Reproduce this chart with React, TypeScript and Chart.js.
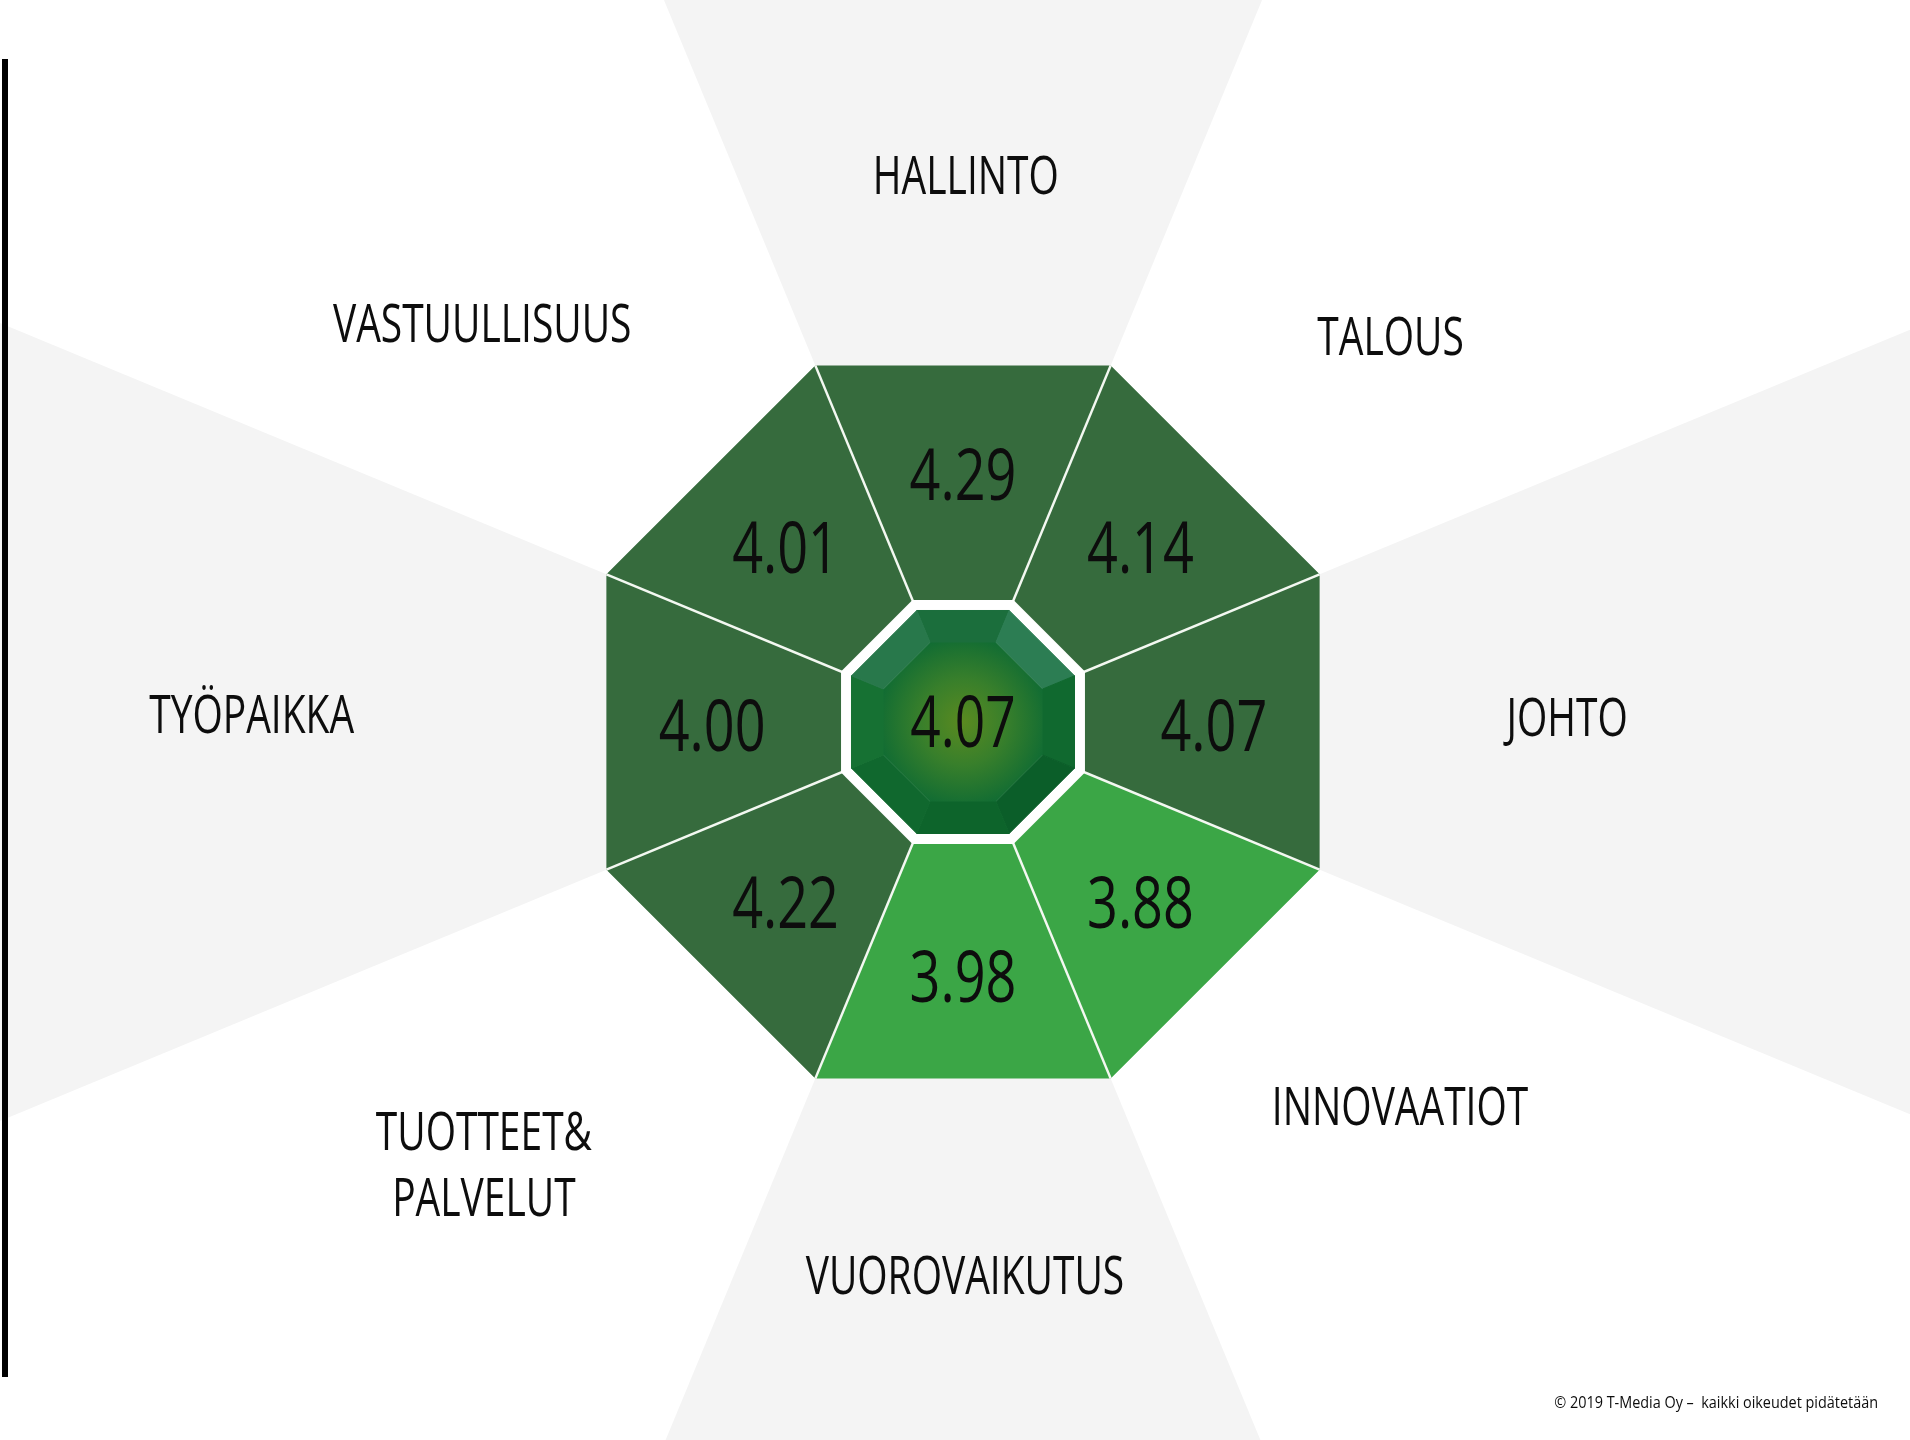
import { useEffect, useRef } from 'react';
import { Chart, registerables } from 'chart.js';

Chart.register(...registerables);

// ---------- data ----------
const categories: (string | string[])[] = [
  'HALLINTO',
  'TALOUS',
  'JOHTO',
  'INNOVAATIOT',
  'VUOROVAIKUTUS',
  ['TUOTTEET&', 'PALVELUT'],
  'TYÖPAIKKA',
  'VASTUULLISUUS',
];
const scores = [4.29, 4.14, 4.07, 3.88, 3.98, 4.22, 4.0, 4.01];
const overallScore = 4.07;
const scaleMin = 0;
const scaleMax = 5;
const colorThreshold = 4.0;
const copyrightText = '© 2019 T-Media Oy –  kaikki oikeudet pidätetään';

// ---------- style / layout ----------
const DARK_GREEN = '#366b3d';
const LIGHT_GREEN = '#3ba646';
const BACKDROP_GRAY = '#f4f4f4';
const DIVIDER = '#f3f8f1';
const TEXT_COLOR = '#0d0d0d';
const FONT = '"Open Sans", Lato, sans-serif';
// label centre: distance (x drawingArea) and small angular turn (deg) from the wedge axis
const LABEL_DIST = [1.418, 1.493, 1.565, 1.507, 1.434, 1.689, 1.843, 1.619];
const LABEL_TURN = [0.3, 2.9, -0.5, -3.7, -0.2, 2.3, 0.6, -5.3];
const SCORE_DIST = 0.65;
const SCORE_DROP = 3;
const RING = 0.342;
const BEZEL_OUT = 0.3127;
const BEZEL_IN = 0.2229;
const FACET_COLORS = ['#1b6e3c', '#2c7d53', '#10692f', '#0b5e29', '#0d642b', '#10682e', '#167133', '#28784b'];

const n = categories.length;

function drawCondensed(
  ctx: CanvasRenderingContext2D,
  lines: string[],
  x: number,
  y: number,
  size: number,
  sx: number,
  lineHeight: number,
  weight = 400,
  align: CanvasTextAlign = 'center'
) {
  ctx.save();
  ctx.font = `${weight} ${size}px ${FONT}`;
  ctx.fillStyle = TEXT_COLOR;
  ctx.textAlign = align;
  ctx.textBaseline = 'alphabetic';
  const cap = size * 0.714;
  const total = (lines.length - 1) * lineHeight;
  lines.forEach((ln, i) => {
    const by = y - total / 2 + i * lineHeight + cap / 2;
    ctx.save();
    ctx.translate(x, by);
    ctx.scale(sx, 1);
    ctx.fillText(ln, 0, 0);
    ctx.restore();
  });
  ctx.restore();
}

const decorPlugin = {
  id: 'octagonDecor',
  beforeDraw(chart: any) {
    const scale = chart.scales.r;
    const ctx: CanvasRenderingContext2D = chart.ctx;
    ctx.save();
    ctx.fillStyle = BACKDROP_GRAY;
    const far = 4000;
    for (let k = 0; k < n; k += 2) {
      const a = scale.getPointPosition(k, far);
      const b = scale.getPointPosition((k + 1) % n, far);
      ctx.beginPath();
      ctx.moveTo(scale.xCenter, scale.yCenter);
      ctx.lineTo(a.x, a.y);
      ctx.lineTo(b.x, b.y);
      ctx.closePath();
      ctx.fill();
    }
    ctx.restore();
  },
  afterDraw(chart: any) {
    const scale = chart.scales.r;
    const ctx: CanvasRenderingContext2D = chart.ctx;
    const da = scale.drawingArea;
    const cx = scale.xCenter;
    const cy = scale.yCenter;
    const octPath = (dist: number) => {
      ctx.beginPath();
      for (let i = 0; i < n; i++) {
        const p = scale.getPointPosition(i, dist);
        if (i === 0) ctx.moveTo(p.x, p.y);
        else ctx.lineTo(p.x, p.y);
      }
      ctx.closePath();
    };
    ctx.save();
    // white ring
    octPath(da * RING);
    ctx.fillStyle = '#ffffff';
    ctx.fill();
    // bezel facets
    for (let k = 0; k < n; k++) {
      const o1 = scale.getPointPosition(k, da * BEZEL_OUT);
      const o2 = scale.getPointPosition((k + 1) % n, da * BEZEL_OUT);
      const i2 = scale.getPointPosition((k + 1) % n, da * BEZEL_IN);
      const i1 = scale.getPointPosition(k, da * BEZEL_IN);
      ctx.beginPath();
      ctx.moveTo(o1.x, o1.y);
      ctx.lineTo(o2.x, o2.y);
      ctx.lineTo(i2.x, i2.y);
      ctx.lineTo(i1.x, i1.y);
      ctx.closePath();
      ctx.fillStyle = FACET_COLORS[k];
      ctx.fill();
      ctx.strokeStyle = FACET_COLORS[k];
      ctx.lineWidth = 1;
      ctx.stroke();
    }
    // inner face
    const rIn = da * BEZEL_IN;
    const g = ctx.createRadialGradient(cx, cy, 0, cx, cy, rIn);
    g.addColorStop(0, '#5a8a20');
    g.addColorStop(0.5, '#387f2b');
    g.addColorStop(1, '#116c33');
    octPath(rIn);
    ctx.fillStyle = g;
    ctx.fill();
    ctx.restore();

    // scores
    scores.forEach((s, k) => {
      const p = scale.getPointPosition(k, da * SCORE_DIST, Math.PI / n);
      drawCondensed(ctx, [s.toFixed(2)], p.x, p.y + SCORE_DROP, 72, 0.75, 0);
    });
    drawCondensed(ctx, [overallScore.toFixed(2)], cx, cy, 71, 0.75, 0);

    // category labels
    categories.forEach((c, k) => {
      const lines = Array.isArray(c) ? c : [c];
      const p = scale.getPointPosition(k, da * LABEL_DIST[k], Math.PI / n + (LABEL_TURN[k] * Math.PI) / 180);
      drawCondensed(ctx, lines, p.x, p.y, 53, 0.735, 66.5);
    });

    // frame line and copyright
    ctx.save();
    ctx.fillStyle = '#000000';
    ctx.fillRect(2, 59, 6, 1318);
    ctx.restore();
    drawCondensed(ctx, [copyrightText], chart.width - 32, 1402, 16, 0.9, 0, 400, 'right');
  },
};

export default function App() {
  const canvasRef = useRef<HTMLCanvasElement | null>(null);

  useEffect(() => {
    const canvas = canvasRef.current;
    if (!canvas) return;
    const datasets = categories.map((_, k) => ({
      label: Array.isArray(categories[k]) ? (categories[k] as string[]).join(' ') : (categories[k] as string),
      data: categories.map((__, i) => (i === k || i === (k + 1) % n ? scaleMax : scaleMin)),
      backgroundColor: scores[k] >= colorThreshold ? DARK_GREEN : LIGHT_GREEN,
      borderColor: 'rgba(0,0,0,0)',
      borderWidth: 0,
      pointRadius: 0,
      pointHoverRadius: 0,
      fill: true,
    }));
    const chart = new Chart(canvas, {
      type: 'radar',
      data: { labels: categories as any, datasets },
      options: {
        animation: false,
        responsive: false,
        events: [],
        layout: { padding: { left: 577, right: 560, top: 336, bottom: 331 } },
        plugins: { legend: { display: false }, tooltip: { enabled: false } },
        elements: { line: { tension: 0 } },
        scales: {
          r: {
            min: scaleMin,
            max: scaleMax,
            startAngle: -180 / n,
            ticks: { display: false },
            grid: { display: false, z: 1 },
            angleLines: { display: true, color: DIVIDER, lineWidth: 2.5 },
            pointLabels: { display: false },
          },
        },
      } as any,
      plugins: [decorPlugin],
    });
    return () => chart.destroy();
  }, []);

  return (
    <div style={{ position: 'fixed', left: 0, top: 0, width: 1910, height: 1440, background: '#ffffff' }}>
      <canvas ref={canvasRef} width={1910} height={1440} style={{ display: 'block' }} />
    </div>
  );
}
